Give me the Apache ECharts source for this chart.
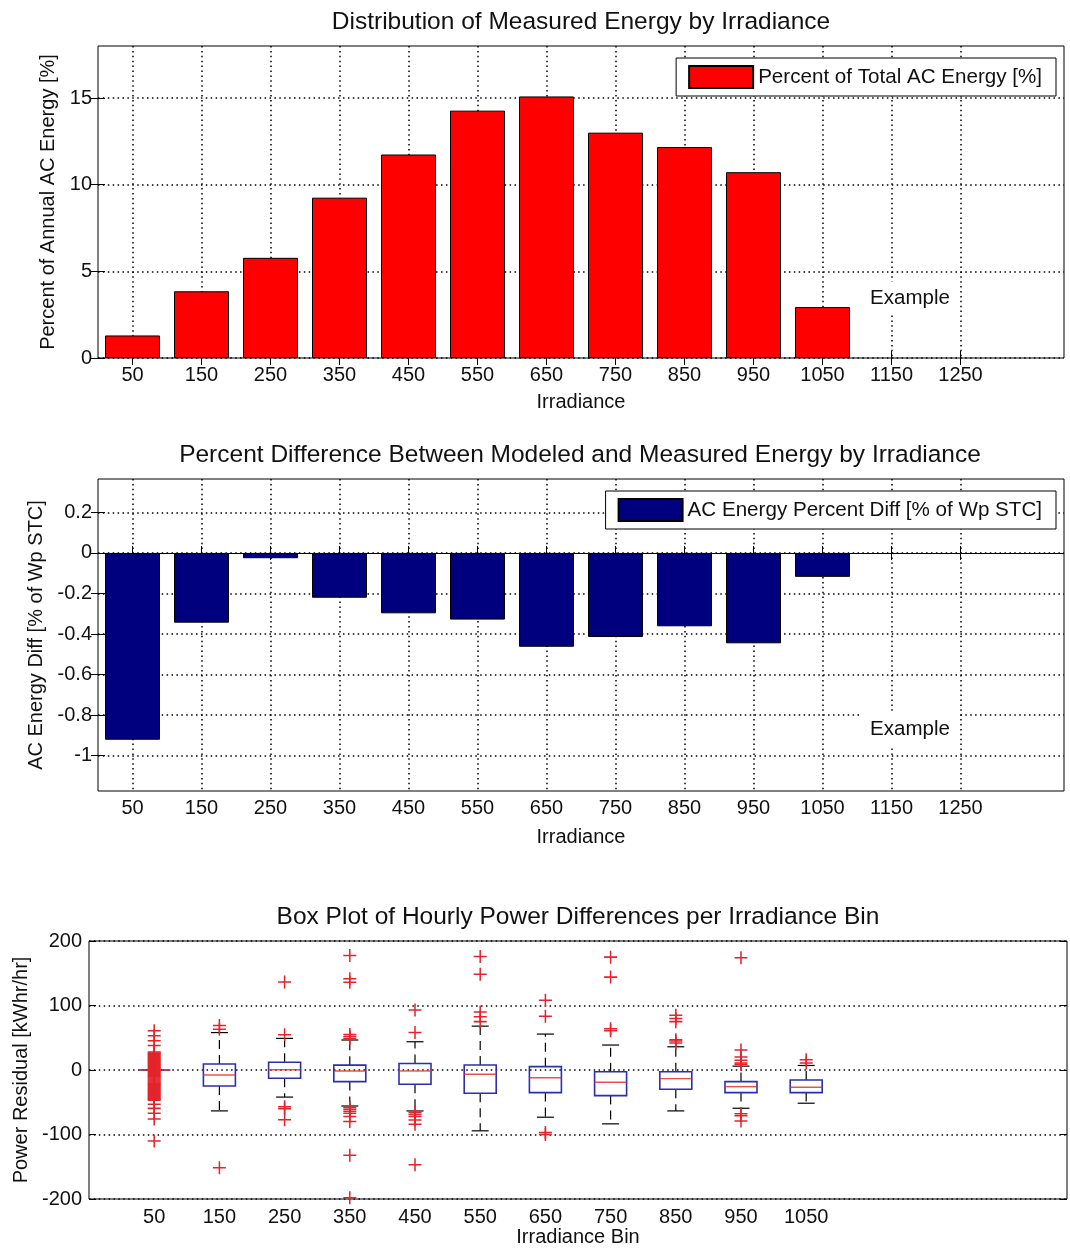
<!DOCTYPE html>
<html>
<head>
<meta charset="utf-8">
<script src="https://cdn.jsdelivr.net/npm/echarts@6/dist/echarts.min.js"></script>
<style>
  html, body { margin: 0; padding: 0; background: #fff; }
  #chart { width: 1070px; height: 1255px; }
</style>
</head>
<body>
<div id="chart"></div>
<script>
// Irradiance bins (W/m2) shared by the three panels
const irradianceBins = [50, 150, 250, 350, 450, 550, 650, 750, 850, 950, 1050];
const irradianceTicks = [50, 150, 250, 350, 450, 550, 650, 750, 850, 950, 1050, 1150, 1250];

// Panel 1: share of annual AC energy per bin [%]
const energyShare = [1.30, 3.85, 5.78, 9.25, 11.74, 14.27, 15.09, 13.00, 12.17, 10.72, 2.94];
const shareTicks = [0, 5, 10, 15];

// Panel 2: modeled vs measured energy difference [% of Wp STC]
const energyDiff = [-0.922, -0.344, -0.026, -0.221, -0.298, -0.329, -0.463, -0.415, -0.362, -0.446, -0.118];
const diffTicks = [-1, -0.8, -0.6, -0.4, -0.2, 0, 0.2];

// Panel 3: hourly power residual summaries per bin [kWhr/hr]
const residualTicks = [-200, -100, 0, 100, 200];
const whiskerLow  = [0, -63.4, -42.0, -55.8, -63.5, -94.3, -73.2, -83.5, -63.4, -59.3, -51.5];
const quartile1   = [0, -24.7, -12.9, -18.0, -22.2, -36.0, -35.0, -39.7, -29.9, -35.0, -35.0];
const medians     = [0,  -7.7,   0.5,  -1.5,  -1.5,  -6.7, -11.9, -19.0, -13.4, -25.8, -26.8];
const quartile3   = [0,   9.3,  12.0,   7.5,  10.0,   7.7,   5.2,  -2.6,  -2.6, -18.0, -15.5];
const whiskerHigh = [0,  58.0,  49.0,  46.5,  43.8,  68.0,  55.7,  38.7,  36.0,   6.0,   7.0];
const outliers = [
  [61, 53, 45.5, 38, 28, 26.5, 25, 23.5, 22, 20.5, 19, 17.5, 16, 14.5, 13, 11.5, 10, 8.5, 7, 5.5, 4,
   2.5, 1, -0.5, -2, -3.5, -5, -6.5, -8, -9.5, -11, -12.5, -14, -15.5, -17, -18.5, -20, -21.5, -23,
   -24.5, -26, -27.5, -29, -30.5, -32, -33.5, -35, -36.5, -38, -39.5, -41, -42.5, -44, -45.5, -47,
   -53, -59.5, -67, -76, -110],
  [69, 63, -151.5],
  [136.6, 54.7, -57, -60, -77],
  [177.5, 141.5, 136, 55, 52, 49, -58, -61, -64, -67, -72, -80, -132, -198],
  [93, 58, -66, -69, -72, -77.5, -84, -147],
  [176, 148.5, 90, 82.5, 75],
  [108, 83.5, -97, -100],
  [175, 144, 64, 61],
  [85, 80, 75, 47, 45, 42],
  [174, 31, 20, 15, 11, 9, -68, -71, -79],
  [16, 11]
];

const FONT = "'Liberation Sans', Arial, sans-serif";
const INK = '#111';
const dotted = { color: '#000', width: 1.5, type: [1.5, 3.4] };

const shareData = irradianceBins.map((b, i) => [b, energyShare[i]]);
const diffData = irradianceBins.map((b, i) => [b, energyDiff[i]]);
const boxData = irradianceBins.map((b, i) =>
  [i + 1, whiskerLow[i], quartile1[i], medians[i], quartile3[i], whiskerHigh[i]]);
const outlierData = [];
outliers.forEach((vals, i) => vals.forEach(v => outlierData.push([i + 1, v])));

const labelStyle = { color: INK, fontSize: 20, fontFamily: FONT };
const nameStyle = { color: INK, fontSize: 20, fontFamily: FONT };
const plain = v => String(v);

function tickOnlyAxis(base) {
  return Object.assign({
    axisLine: { show: false },
    axisLabel: { show: false },
    splitLine: { show: false }
  }, base);
}

const grids = [
  { left: 98, top: 46, width: 966, height: 312 },
  { left: 98, top: 479, width: 966, height: 312 },
  { left: 89, top: 941, width: 978, height: 258 }
].map(g => Object.assign({ show: true, borderColor: '#000', borderWidth: 1, backgroundColor: 'transparent' }, g));

const irrTick = { inside: true, length: 7, customValues: irradianceTicks, lineStyle: { color: '#000' } };

const xAxes = [
  {
    type: 'value', gridIndex: 0, min: 0, max: 1400,
    axisLine: { show: false },
    axisTick: irrTick,
    axisLabel: Object.assign({ customValues: irradianceTicks, formatter: plain, margin: 7 }, labelStyle),
    splitLine: { show: true, lineStyle: dotted },
    name: 'Irradiance', nameLocation: 'middle', nameGap: 34, nameTextStyle: nameStyle
  },
  tickOnlyAxis({ type: 'value', gridIndex: 0, min: 0, max: 1400, position: 'top', axisTick: irrTick }),
  {
    type: 'value', gridIndex: 1, min: 0, max: 1400,
    axisLine: { show: false },
    axisTick: irrTick,
    axisLabel: Object.assign({ customValues: irradianceTicks, formatter: plain, margin: 7 }, labelStyle),
    splitLine: { show: true, lineStyle: dotted },
    name: 'Irradiance', nameLocation: 'middle', nameGap: 36, nameTextStyle: nameStyle
  },
  tickOnlyAxis({ type: 'value', gridIndex: 1, min: 0, max: 1400, position: 'top', axisTick: irrTick }),
  {
    type: 'value', gridIndex: 2, min: 0, max: 15,
    axisLine: { show: false },
    axisTick: { show: false },
    axisLabel: Object.assign({
      customValues: irradianceBins.map((b, i) => i + 1),
      formatter: v => String(irradianceBins[Math.round(v) - 1]),
      margin: 8
    }, labelStyle),
    splitLine: { show: false },
    name: 'Irradiance Bin', nameLocation: 'middle', nameGap: 27, nameTextStyle: nameStyle
  }
];

const shareTick = { inside: true, length: 7, customValues: shareTicks, lineStyle: { color: '#000' } };
const diffTick = { inside: true, length: 7, customValues: diffTicks, lineStyle: { color: '#000' } };
const resTick = { inside: true, length: 7, customValues: residualTicks, lineStyle: { color: '#000' } };

const yAxes = [
  {
    type: 'value', gridIndex: 0, min: 0, max: 18,
    axisLine: { show: false },
    axisTick: shareTick,
    axisLabel: Object.assign({ customValues: shareTicks, margin: 6 }, labelStyle),
    splitLine: { show: true, lineStyle: dotted },
    name: 'Percent of Annual AC Energy [%]', nameLocation: 'middle', nameGap: 37, nameTextStyle: nameStyle
  },
  tickOnlyAxis({ type: 'value', gridIndex: 0, min: 0, max: 18, position: 'right', axisTick: shareTick }),
  {
    type: 'value', gridIndex: 1, min: -1.175, max: 0.365,
    axisLine: { show: false },
    axisTick: diffTick,
    axisLabel: Object.assign({ customValues: diffTicks, margin: 6 }, labelStyle),
    splitLine: { show: true, lineStyle: dotted },
    name: 'AC Energy Diff [% of Wp STC]', nameLocation: 'middle', nameGap: 48, nameTextStyle: nameStyle
  },
  tickOnlyAxis({ type: 'value', gridIndex: 1, min: -1.175, max: 0.365, position: 'right', axisTick: diffTick }),
  {
    type: 'value', gridIndex: 2, min: -200, max: 200,
    axisLine: { show: false },
    axisTick: resTick,
    axisLabel: Object.assign({ customValues: residualTicks, margin: 7 }, labelStyle),
    splitLine: { show: true, lineStyle: dotted },
    name: 'Power Residual [kWhr/hr]', nameLocation: 'middle', nameGap: 50, nameTextStyle: nameStyle
  },
  tickOnlyAxis({ type: 'value', gridIndex: 2, min: -200, max: 200, position: 'right', axisTick: resTick })
];

const legendBase = {
  selectedMode: false, icon: 'rect', itemWidth: 64, itemHeight: 22,
  orient: 'horizontal', right: 14,
  padding: [7, 14, 7, 12],
  borderColor: '#000', borderWidth: 1, backgroundColor: '#fff',
  textStyle: { color: INK, fontSize: 20.6, fontFamily: FONT }
};

// Box-and-whisker glyph: dashed whiskers, caps, box outline and median
function renderBox(params, api) {
  const x = api.value(0);
  const lo = api.coord([x, api.value(1)]);
  const q1 = api.coord([x, api.value(2)]);
  const md = api.coord([x, api.value(3)]);
  const q3 = api.coord([x, api.value(4)]);
  const hi = api.coord([x, api.value(5)]);
  const cx = lo[0];
  const half = 16, cap = 8.5;
  const black = { stroke: '#000', lineWidth: 1.2 };
  return {
    type: 'group',
    children: [
      { type: 'line', shape: { x1: cx, y1: q3[1], x2: cx, y2: hi[1] }, style: Object.assign({ lineDash: [9, 6] }, black) },
      { type: 'line', shape: { x1: cx, y1: q1[1], x2: cx, y2: lo[1] }, style: Object.assign({ lineDash: [9, 6] }, black) },
      { type: 'line', shape: { x1: cx - cap, y1: hi[1], x2: cx + cap, y2: hi[1] }, style: black },
      { type: 'line', shape: { x1: cx - cap, y1: lo[1], x2: cx + cap, y2: lo[1] }, style: black },
      { type: 'rect', shape: { x: cx - half, y: q3[1], width: half * 2, height: Math.max(q1[1] - q3[1], 0) },
        style: { fill: 'none', stroke: '#2a2fb0', lineWidth: 1.6 } },
      { type: 'line', shape: { x1: cx - half, y1: md[1], x2: cx + half, y2: md[1] },
        style: { stroke: '#e8332a', lineWidth: 1.4, opacity: 0.85 } }
    ]
  };
}

const PLUS = 'path://M5.3,0h1.4v5.3h5.3v1.4h-5.3v5.3h-1.4v-5.3h-5.3v-1.4h5.3z';

const chart = echarts.init(document.getElementById('chart'), null, { renderer: 'canvas' });
chart.setOption({
  animation: false,
  backgroundColor: '#fff',
  grid: grids,
  xAxis: xAxes,
  yAxis: yAxes,
  legend: [
    Object.assign({ top: 58, data: ['Percent of Total AC Energy [%]'] }, legendBase),
    Object.assign({ top: 491, data: ['AC Energy Percent Diff [% of Wp STC]'] }, legendBase)
  ],
  series: [
    {
      name: 'Percent of Total AC Energy [%]', type: 'bar',
      xAxisIndex: 0, yAxisIndex: 0, barWidth: 55,
      itemStyle: { color: '#ff0000', borderColor: '#000', borderWidth: 1 },
      data: shareData
    },
    {
      name: 'AC Energy Percent Diff [% of Wp STC]', type: 'bar',
      xAxisIndex: 2, yAxisIndex: 2, barWidth: 55,
      itemStyle: { color: '#00007f', borderColor: '#000', borderWidth: 1 },
      data: diffData,
      markLine: {
        silent: true, symbol: 'none', label: { show: false },
        lineStyle: { color: '#000', type: 'solid', width: 1.2 },
        data: [{ yAxis: 0 }]
      }
    },
    {
      name: 'residual boxes', type: 'custom',
      xAxisIndex: 4, yAxisIndex: 4,
      renderItem: renderBox,
      encode: { x: 0, y: [1, 2, 3, 4, 5] },
      data: boxData
    },
    {
      name: 'residual outliers', type: 'scatter',
      xAxisIndex: 4, yAxisIndex: 4,
      symbol: PLUS, symbolSize: 13,
      itemStyle: { color: '#e3242b', opacity: 1 },
      data: outlierData
    }
  ],
  graphic: [
    { type: 'text', x: 581, y: 22, z: 100,
      style: { text: 'Distribution of Measured Energy by Irradiance', font: `24.5px ${FONT}`, align: 'center', verticalAlign: 'middle', fill: INK } },
    { type: 'text', x: 580, y: 455, z: 100,
      style: { text: 'Percent Difference Between Modeled and Measured Energy by Irradiance', font: `24.5px ${FONT}`, align: 'center', verticalAlign: 'middle', fill: INK } },
    { type: 'text', x: 578, y: 917, z: 100,
      style: { text: 'Box Plot of Hourly Power Differences per Irradiance Bin', font: `24.5px ${FONT}`, align: 'center', verticalAlign: 'middle', fill: INK } },
    { type: 'text', x: 910, y: 298, z: 100,
      style: { text: 'Example', font: `20.5px ${FONT}`, align: 'center', verticalAlign: 'middle', fill: INK,
               backgroundColor: '#fff', padding: [6, 9] } },
    { type: 'text', x: 910, y: 729, z: 100,
      style: { text: 'Example', font: `20.5px ${FONT}`, align: 'center', verticalAlign: 'middle', fill: INK,
               backgroundColor: '#fff', padding: [6, 9] } }
  ]
});
</script>
</body>
</html>
